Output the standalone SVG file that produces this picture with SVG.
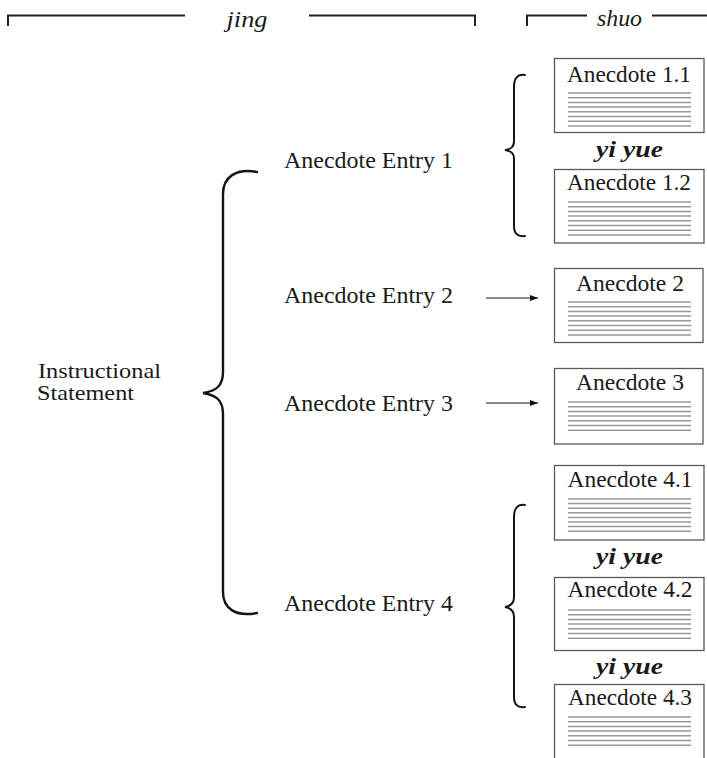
<svg xmlns="http://www.w3.org/2000/svg" width="707" height="758" viewBox="0 0 707 758">
  <defs>
    <style>
      text { font-family: "Liberation Serif", "Times New Roman", serif; fill: #1a1a1a; }
      .lbl { font-size: 23px; }
      .stmt { font-size: 21px; }
      .head { font-size: 24px; font-style: italic; }
      .yi { font-size: 24px; font-style: italic; font-weight: bold; text-anchor: middle; }
      .title { font-size: 23px; text-anchor: middle; }
      .box { fill: #ffffff; stroke: #5a5a5a; stroke-width: 1.3; }
      .rule { fill: none; stroke: #9a9a9a; stroke-width: 1.5; }
      .bracket { fill: none; stroke: #222; stroke-width: 2; }
      .brace { fill: none; stroke: #151515; stroke-width: 2.4; stroke-linecap: round; }
      .brace-s { fill: none; stroke: #151515; stroke-width: 2; stroke-linecap: round; }
      .arrow { stroke: #111; stroke-width: 1; marker-end: url(#head); }
    </style>
    <marker id="head" viewBox="0 0 8 6" refX="8" refY="3" markerWidth="8" markerHeight="6" markerUnits="userSpaceOnUse" orient="auto">
      <path d="M0,0 L8,3 L0,6 Z" fill="#111"/>
    </marker>
  </defs>

  <!-- column headers -->
  <g id="header-jing">
    <path class="bracket" d="M8,26 V15.5 H185 M309,15.5 H475 V26"/>
    <text class="head" x="247" y="27" text-anchor="middle" textLength="41" lengthAdjust="spacingAndGlyphs">jing</text>
  </g>
  <g id="header-shuo">
    <path class="bracket" d="M527,26 V15.5 H587 M652,15.5 H707"/>
    <text class="head" x="619.5" y="26" text-anchor="middle" textLength="45" lengthAdjust="spacingAndGlyphs">shuo</text>
  </g>

  <!-- instructional statement and its brace -->
  <g id="statement">
    <text class="lbl stmt" x="38" y="378" textLength="123" lengthAdjust="spacingAndGlyphs">Instructional</text>
    <text class="lbl stmt" x="37" y="400" textLength="97" lengthAdjust="spacingAndGlyphs">Statement</text>
    <path class="brace" d="M257,172 C236,168 223,177 223,194 L223,372 C223,386 216,391 203,393 C216,395 223,400 223,414 L223,592 C223,609 236,617 257,613"/>
  </g>

  <!-- entries -->
  <g id="entry-1">
    <text class="lbl" x="284" y="168" textLength="169" lengthAdjust="spacingAndGlyphs">Anecdote Entry 1</text>
  </g>
  <g id="entry-2">
    <text class="lbl" x="284" y="303" textLength="169" lengthAdjust="spacingAndGlyphs">Anecdote Entry 2</text>
  </g>
  <g id="entry-3">
    <text class="lbl" x="284" y="411" textLength="169" lengthAdjust="spacingAndGlyphs">Anecdote Entry 3</text>
  </g>
  <g id="entry-4">
    <text class="lbl" x="284" y="611" textLength="169" lengthAdjust="spacingAndGlyphs">Anecdote Entry 4</text>
  </g>

  <!-- connectors -->
  <g id="connectors">
    <path class="brace-s" d="M525,75 C517,74 514,79 514,87 L514,141 C514,147 511,149 505,150 C511,151 514,153 514,159 L514,226 C514,233 517,237 525,236"/>
    <line class="arrow" x1="486" y1="298" x2="538" y2="298"/>
    <line class="arrow" x1="486" y1="403" x2="538" y2="403"/>
    <path class="brace-s" d="M525,505 C517,504 514,509 514,517 L514,597 C514,603 511,606 505,607 C511,608 514,611 514,617 L514,697 C514,704 517,708 525,707"/>
  </g>

  <!-- anecdotes -->
  <g id="anecdote-1-1">
    <rect class="box" x="554.5" y="58.5" width="149.5" height="74"/>
    <text class="title" x="629" y="82" textLength="124" lengthAdjust="spacingAndGlyphs">Anecdote 1.1</text>
    <path class="rule" d="M568,93 H691 M568,97.7 H691 M568,102.4 H691 M568,107.1 H691 M568,111.8 H691 M568,116.5 H691 M568,121.2 H691 M568,125.9 H691"/>
  </g>
  <text class="yi" x="629.5" y="157" textLength="67" lengthAdjust="spacingAndGlyphs">yi yue</text>
  <g id="anecdote-1-2">
    <rect class="box" x="554.5" y="169.5" width="149.5" height="73.5"/>
    <text class="title" x="629" y="190" textLength="124" lengthAdjust="spacingAndGlyphs">Anecdote 1.2</text>
    <path class="rule" d="M568,202 H691 M568,206.7 H691 M568,211.4 H691 M568,216.1 H691 M568,220.8 H691 M568,225.5 H691 M568,230.2 H691 M568,234.9 H691"/>
  </g>
  <g id="anecdote-2">
    <rect class="box" x="554.5" y="268.5" width="148.5" height="74"/>
    <text class="title" x="630" y="291" textLength="108" lengthAdjust="spacingAndGlyphs">Anecdote 2</text>
    <path class="rule" d="M568,302 H691 M568,306.7 H691 M568,311.4 H691 M568,316.1 H691 M568,320.8 H691 M568,325.5 H691 M568,330.2 H691 M568,334.9 H691"/>
  </g>
  <g id="anecdote-3">
    <rect class="box" x="554.5" y="368.5" width="148.5" height="75.5"/>
    <text class="title" x="630" y="390" textLength="108" lengthAdjust="spacingAndGlyphs">Anecdote 3</text>
    <path class="rule" d="M568,402 H691 M568,406.7 H691 M568,411.4 H691 M568,416.1 H691 M568,420.8 H691 M568,425.5 H691 M568,430.2 H691"/>
  </g>
  <g id="anecdote-4-1">
    <rect class="box" x="554.5" y="465.5" width="149.5" height="74.5"/>
    <text class="title" x="630" y="487" textLength="125" lengthAdjust="spacingAndGlyphs">Anecdote 4.1</text>
    <path class="rule" d="M568,499 H691 M568,503.6 H691 M568,508.2 H691 M568,512.8 H691 M568,517.4 H691 M568,522 H691 M568,526.6 H691 M568,531.2 H691"/>
  </g>
  <text class="yi" x="629.5" y="564" textLength="67" lengthAdjust="spacingAndGlyphs">yi yue</text>
  <g id="anecdote-4-2">
    <rect class="box" x="554.5" y="577.5" width="149.5" height="73"/>
    <text class="title" x="630" y="597" textLength="125" lengthAdjust="spacingAndGlyphs">Anecdote 4.2</text>
    <path class="rule" d="M568,610 H691 M568,614.7 H691 M568,619.4 H691 M568,624.1 H691 M568,628.8 H691 M568,633.5 H691 M568,638.2 H691"/>
  </g>
  <text class="yi" x="629.5" y="674" textLength="67" lengthAdjust="spacingAndGlyphs">yi yue</text>
  <g id="anecdote-4-3">
    <rect class="box" x="554.5" y="684.5" width="149.5" height="80"/>
    <text class="title" x="630" y="705" textLength="124" lengthAdjust="spacingAndGlyphs">Anecdote 4.3</text>
    <path class="rule" d="M568,717 H691 M568,721.7 H691 M568,726.4 H691 M568,731.1 H691 M568,735.8 H691 M568,740.5 H691 M568,745.2 H691"/>
  </g>
</svg>
